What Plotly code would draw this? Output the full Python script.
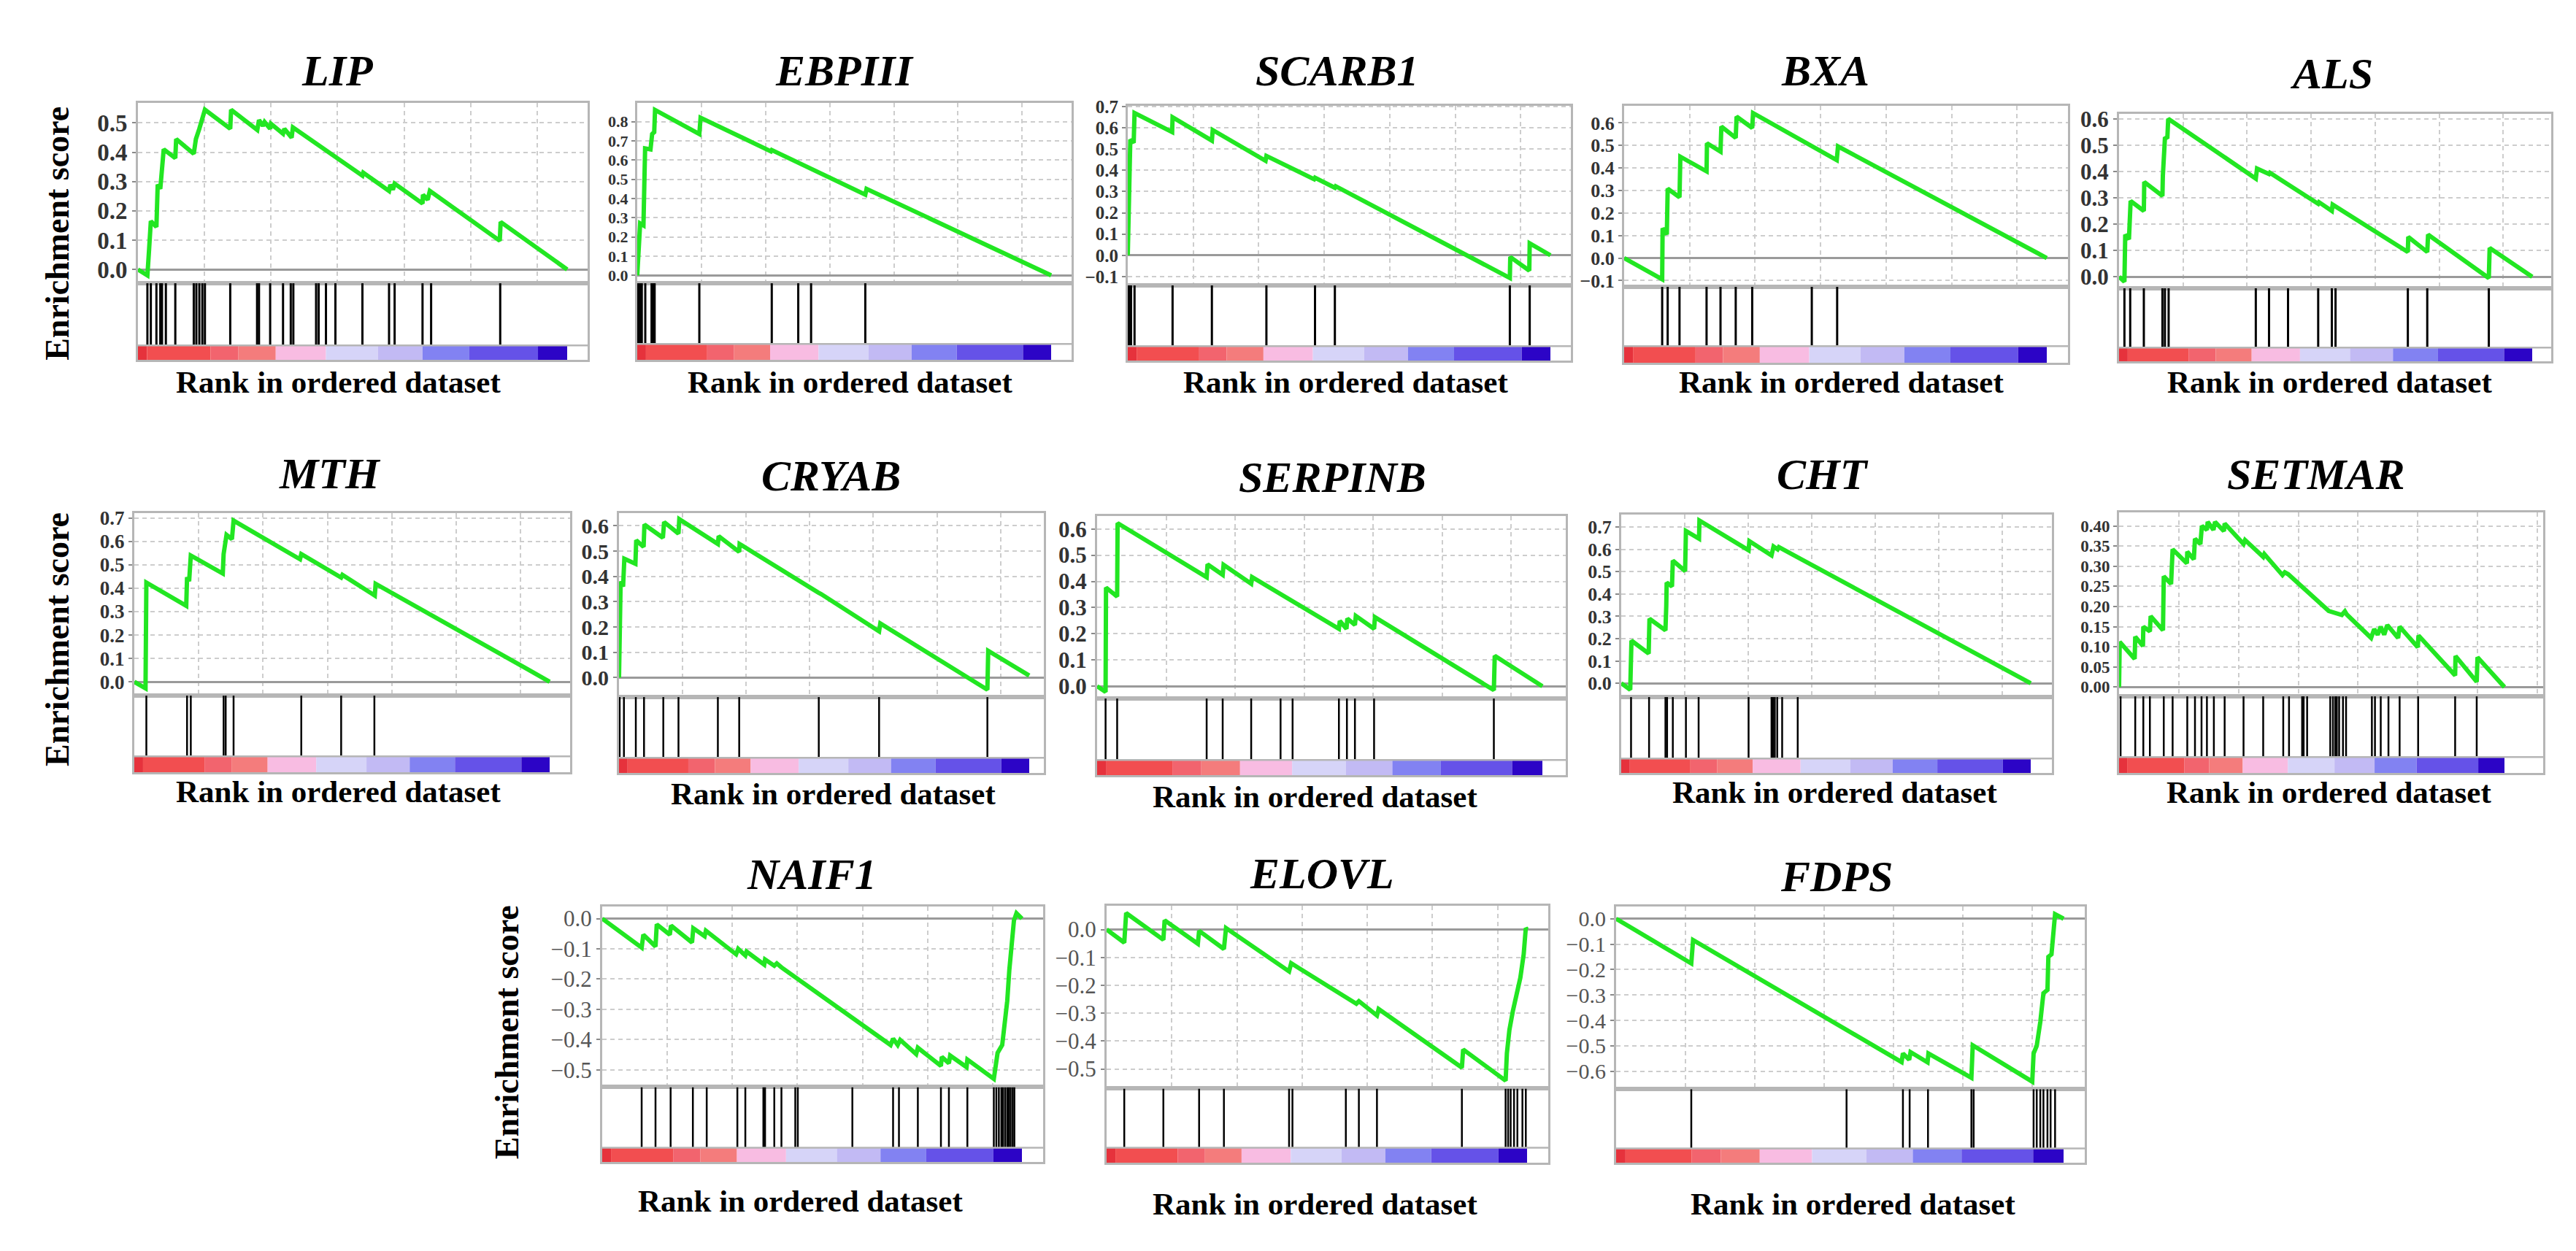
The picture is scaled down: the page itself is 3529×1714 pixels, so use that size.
import plotly.graph_objects as go

FIG_W, FIG_H = 3529, 1714
GREEN = "#22e622"
FRAME = "#b6b6b6"
GRID = "#cdcdcd"
SERIF = "Liberation Serif"

# ---------------- data ----------------
GENES = ["LIP", "EBPIII", "SCARB1", "BXA", "ALS",
         "MTH", "CRYAB", "SERPINB", "CHT", "SETMAR",
         "NAIF1", "ELOVL", "FDPS"]

# ranked-list colour strip (percent of ranked list)
CBAR_EDGES = [0, 2.1, 16.9, 23.4, 32.1, 43.8, 55.9, 66.3, 77.2, 93.2, 100]
CBAR_COLORS = ["#e6323c", "#f24e50", "#f2646e", "#f47c7c", "#f8bce2",
               "#d6d4f8", "#c2baf4", "#8282f2", "#6552e8", "#2c04c6"]

# running enrichment score vertices (x = % of ranked list)
LIP_ES_X = [0, 2.2, 2.6, 3.0, 4.3, 4.6, 5.2, 5.6, 6.0, 8.7, 8.9, 13.0, 13.5, 14.3, 15.1, 15.6, 21.5, 21.7, 27.8, 28.2,
            29.1, 29.5, 30.8, 31.0, 33.8, 34.1, 35.8, 36.1, 52.3, 52.5, 58.5, 58.8, 59.4, 59.8, 66.3, 66.4, 67.5, 68.0,
            84.3, 84.5, 100]
LIP_ES_Y = [0.0, -0.02, 0.07, 0.165, 0.145, 0.29, 0.275, 0.35, 0.41, 0.38, 0.445, 0.395, 0.445, 0.48, 0.515, 0.545,
            0.48, 0.545, 0.476, 0.51, 0.49, 0.503, 0.48, 0.497, 0.463, 0.48, 0.45, 0.485, 0.32, 0.33, 0.268, 0.289,
            0.272, 0.293, 0.225, 0.255, 0.238, 0.268, 0.098, 0.162, 0.0]
LIP_HITS = [2.2, 3.0, 4.3, 5.2, 5.6, 6.5, 8.7, 13.0, 13.6, 14.3, 15.0, 15.6, 21.5, 27.75, 28.2, 30.8, 33.8, 35.6,
            36.2, 41.5, 42.1, 43.8, 46.0, 52.3, 58.5, 59.8, 66.3, 68.3, 84.4]
LIP_TICKS = [0.0, 0.1, 0.2, 0.3, 0.4, 0.5]

EBPIII_ES_X = [0, 0.25, 0.7, 1.5, 1.9, 3.2, 3.6, 4.1, 4.3, 15.0, 15.3, 32.3, 32.5, 55.1, 55.4, 100]
EBPIII_ES_Y = [0, 0.13, 0.27, 0.26, 0.66, 0.655, 0.735, 0.745, 0.86, 0.735, 0.82, 0.645, 0.652, 0.42, 0.45, 0.0]
EBPIII_HITS = [0.25, 0.68, 1.1, 1.94, 3.46, 3.88, 4.2, 15.0, 32.5, 38.9, 42.0, 55.1]
EBPIII_TICKS = [0.0, 0.1, 0.2, 0.3, 0.4, 0.5, 0.6, 0.7, 0.8]

SCARB1_ES_X = [0, 0.6, 1.4, 1.6, 10.5, 10.6, 19.9, 20.1, 32.6, 32.8, 44.1, 44.3, 49.0, 49.2, 90.4, 90.5, 95.0,
               95.1, 100]
SCARB1_ES_Y = [0, 0.545, 0.53, 0.67, 0.58, 0.65, 0.54, 0.59, 0.445, 0.468, 0.358, 0.365, 0.318, 0.325, -0.107,
               -0.008, -0.072, 0.056, 0.0]
SCARB1_HITS = [0.23, 0.46, 0.77, 1.6, 10.6, 19.9, 32.8, 44.3, 49.0, 90.4, 95.1]
SCARB1_TICKS = [-0.1, 0.0, 0.1, 0.2, 0.3, 0.4, 0.5, 0.6, 0.7]

BXA_ES_X = [0, 9.0, 9.1, 10.1, 10.3, 13.1, 13.3, 19.5, 19.6, 22.8, 23.0, 26.4, 26.6, 30.3, 30.5, 50.3, 50.6, 100]
BXA_ES_Y = [0, -0.094, 0.132, 0.105, 0.308, 0.27, 0.45, 0.385, 0.51, 0.473, 0.584, 0.534, 0.628, 0.578, 0.644,
            0.435, 0.496, 0.0]
BXA_HITS = [9.0, 10.3, 13.1, 19.5, 22.8, 26.4, 30.3, 44.4, 50.4]
BXA_TICKS = [-0.1, 0.0, 0.1, 0.2, 0.3, 0.4, 0.5, 0.6]

ALS_ES_X = [0, 1.3, 1.5, 2.4, 2.8, 6.0, 6.1, 10.5, 10.6, 10.9, 11.1, 11.7, 11.9, 33.1, 33.4, 36.3, 36.5, 48.2,
            48.4, 51.5, 51.7, 69.9, 70.0, 74.6, 74.8, 89.5, 89.7, 100]
ALS_ES_Y = [0, -0.019, 0.16, 0.142, 0.288, 0.25, 0.36, 0.307, 0.383, 0.44, 0.525, 0.53, 0.6, 0.373, 0.411, 0.39,
            0.395, 0.277, 0.283, 0.25, 0.274, 0.094, 0.151, 0.094, 0.16, -0.005, 0.109, 0.0]
ALS_HITS = [1.3, 2.7, 6.0, 10.5, 11.1, 12.0, 33.1, 36.3, 40.9, 48.2, 51.5, 52.4, 69.9, 74.6, 89.5]
ALS_TICKS = [0.0, 0.1, 0.2, 0.3, 0.4, 0.5, 0.6]

MTH_ES_X = [0, 2.7, 2.9, 12.5, 12.7, 13.2, 13.6, 21.3, 21.5, 22.2, 23.5, 23.9, 39.9, 40.2, 49.8, 50.1, 57.9, 58.1,
            94.6, 100]
MTH_ES_Y = [0, -0.028, 0.424, 0.325, 0.447, 0.43, 0.54, 0.463, 0.546, 0.628, 0.61, 0.689, 0.524, 0.546, 0.446,
            0.457, 0.369, 0.419, 0.055, 0.0]
MTH_HITS = [2.9, 12.7, 13.6, 21.5, 22.0, 23.9, 40.2, 49.8, 57.8]
MTH_TICKS = [0.0, 0.1, 0.2, 0.3, 0.4, 0.5, 0.6, 0.7]

CRYAB_ES_X = [0, 0.2, 0.4, 1.0, 1.3, 4.0, 4.2, 6.0, 6.2, 10.7, 11.0, 14.5, 14.7, 24.1, 24.3, 29.3, 29.4, 48.5,
              49.3, 63.4, 63.7, 89.8, 90.0, 100]
CRYAB_ES_Y = [0, 0.23, 0.38, 0.36, 0.47, 0.45, 0.543, 0.517, 0.605, 0.553, 0.615, 0.569, 0.626, 0.528, 0.559,
              0.497, 0.528, 0.337, 0.33, 0.183, 0.214, -0.048, 0.106, 0.008]
CRYAB_HITS = [0.16, 1.2, 4.1, 6.1, 10.8, 14.5, 24.1, 29.3, 48.7, 63.4, 89.8]
CRYAB_TICKS = [0.0, 0.1, 0.2, 0.3, 0.4, 0.5, 0.6]

SERPINB_ES_X = [0, 1.9, 2.0, 4.5, 4.6, 24.6, 24.8, 28.2, 28.4, 34.6, 34.8, 54.3, 54.5, 56.0, 56.2, 57.9, 58.1,
                62.2, 62.4, 89.1, 89.3, 100]
SERPINB_ES_Y = [0, -0.022, 0.376, 0.342, 0.622, 0.416, 0.465, 0.425, 0.463, 0.391, 0.416, 0.219, 0.249, 0.219,
                0.258, 0.234, 0.268, 0.219, 0.263, -0.015, 0.116, 0.0]
SERPINB_HITS = [1.9, 4.5, 24.6, 28.2, 34.6, 41.2, 43.9, 54.3, 56.1, 57.9, 62.2, 89.1]
SERPINB_TICKS = [0.0, 0.1, 0.2, 0.3, 0.4, 0.5, 0.6]

CHT_ES_X = [0, 2.2, 2.5, 6.7, 6.9, 10.8, 11.0, 11.1, 12.4, 12.6, 15.6, 15.8, 19.0, 19.1, 31.1, 31.3, 36.7, 37.2,
            38.2, 38.5, 100]
CHT_ES_Y = [0, -0.029, 0.191, 0.133, 0.289, 0.237, 0.347, 0.451, 0.434, 0.55, 0.503, 0.683, 0.648, 0.729, 0.596,
            0.637, 0.573, 0.613, 0.6, 0.61, 0.0]
CHT_HITS = [2.4, 6.8, 10.8, 11.2, 12.6, 15.8, 18.9, 31.1, 36.7, 37.1, 37.5, 38.1, 39.3, 43.1]
CHT_TICKS = [0.0, 0.1, 0.2, 0.3, 0.4, 0.5, 0.6, 0.7]

SETMAR_ES_X = [0, 0.17, 4.05, 4.2, 6.2, 6.3, 8.0, 8.2, 11.4, 11.6, 13.5, 13.9, 17.6, 17.7, 19.4, 19.7, 21.1, 21.5,
               22.8, 23.0, 24.5, 24.9, 27.2, 27.4, 32.3, 32.7, 37.4, 37.7, 42.4, 43.0, 43.9, 54.4, 57.8, 58.6, 59.1,
               65.4, 66.2, 67.1, 67.9, 68.8, 69.6, 72.4, 72.8, 77.5, 77.7, 87.2, 87.3, 92.8, 93.0, 100]
SETMAR_ES_Y = [0, 0.112, 0.07, 0.125, 0.102, 0.15, 0.138, 0.176, 0.141, 0.275, 0.256, 0.342, 0.307, 0.336, 0.317,
               0.368, 0.355, 0.4, 0.39, 0.41, 0.39, 0.41, 0.387, 0.406, 0.355, 0.365, 0.323, 0.33, 0.278, 0.285,
               0.28, 0.189, 0.179, 0.188, 0.18, 0.122, 0.144, 0.13, 0.15, 0.13, 0.154, 0.122, 0.15, 0.099, 0.128,
               0.029, 0.077, 0.013, 0.074, 0.0]
SETMAR_HITS = [0.4, 4.2, 6.3, 8.0, 11.6, 13.9, 17.7, 19.7, 21.4, 22.8, 24.6, 27.4, 32.3, 37.4, 42.6, 44.1, 47.5,
               47.9, 48.8, 54.8, 55.5, 56.1, 56.5, 57.1, 58.1, 58.9, 65.6, 66.4, 67.9, 69.9, 72.8, 77.6, 87.2, 92.8]
SETMAR_TICKS = [0.0, 0.05, 0.10, 0.15, 0.20, 0.25, 0.30, 0.35, 0.40]

NAIF1_ES_X = [0, 9.4, 9.8, 12.7, 13.0, 16.1, 16.4, 21.4, 21.7, 24.4, 24.7, 31.9, 32.4, 34.1, 34.4, 38.6, 38.8,
              41.0, 41.6, 42.7, 68.7, 69.3, 70.4, 71.0, 74.8, 75.2, 80.7, 80.9, 82.6, 82.9, 86.8, 87.0, 93.3, 93.7,
              94.2, 95.3, 95.9, 96.5, 97.0, 97.6, 98.1, 98.7, 100]
NAIF1_ES_Y = [0, -0.096, -0.053, -0.092, -0.019, -0.053, -0.023, -0.079, -0.032, -0.058, -0.04, -0.118, -0.1,
              -0.122, -0.109, -0.152, -0.135, -0.156, -0.148, -0.161, -0.418, -0.397, -0.418, -0.401, -0.448,
              -0.427, -0.487, -0.457, -0.478, -0.453, -0.491, -0.466, -0.53, -0.487, -0.444, -0.418, -0.358,
              -0.272, -0.169, -0.083, -0.006, 0.018, 0.0]
NAIF1_HITS = [9.4, 12.7, 16.3, 21.6, 24.9, 32.2, 34.1, 38.4, 38.8, 41.0, 42.7, 46.0, 46.6, 59.6, 69.3, 70.7, 75.2,
              80.7, 82.6, 87.0, 93.3, 93.9, 94.5, 95.1, 95.5, 96.0, 96.5, 96.9, 97.3, 97.8, 98.2]
NAIF1_TICKS = [-0.5, -0.4, -0.3, -0.2, -0.1, 0.0]

ELOVL_ES_X = [0, 4.2, 4.65, 13.5, 13.8, 21.7, 22.0, 27.9, 28.4, 43.4, 43.9, 59.4, 60.0, 64.3, 64.7, 84.5, 84.8,
              94.9, 95.2, 95.8, 96.6, 98.4, 99.2, 99.7, 100]
ELOVL_ES_Y = [0, -0.047, 0.059, -0.037, 0.033, -0.051, -0.005, -0.07, 0.005, -0.15, -0.121, -0.266, -0.257,
              -0.308, -0.285, -0.495, -0.43, -0.542, -0.444, -0.36, -0.294, -0.173, -0.089, 0.005, 0.0]
ELOVL_HITS = [4.2, 13.5, 22.0, 27.9, 43.4, 44.2, 56.9, 60.0, 64.3, 84.5, 94.9, 95.5, 96.1, 96.9, 97.7, 98.9, 99.7]
ELOVL_TICKS = [-0.5, -0.4, -0.3, -0.2, -0.1, 0.0]

FDPS_ES_X = [0, 16.8, 17.2, 63.8, 64.1, 65.5, 65.8, 69.6, 69.8, 79.4, 79.7, 93.0, 93.3, 94.0, 94.8, 95.5, 96.4,
             96.6, 97.3, 98.1, 100]
FDPS_ES_Y = [0, -0.176, -0.084, -0.564, -0.53, -0.555, -0.525, -0.565, -0.53, -0.626, -0.498, -0.641, -0.53,
             -0.5, -0.406, -0.293, -0.28, -0.15, -0.14, 0.018, 0.0]
FDPS_HITS = [16.8, 51.5, 64.1, 65.6, 69.7, 79.4, 79.9, 93.3, 94.0, 94.8, 95.5, 96.4, 97.1, 98.1]
FDPS_TICKS = [-0.6, -0.5, -0.4, -0.3, -0.2, -0.1, 0.0]

SERIES = {
    "LIP": (LIP_ES_X, LIP_ES_Y, LIP_HITS, LIP_TICKS),
    "EBPIII": (EBPIII_ES_X, EBPIII_ES_Y, EBPIII_HITS, EBPIII_TICKS),
    "SCARB1": (SCARB1_ES_X, SCARB1_ES_Y, SCARB1_HITS, SCARB1_TICKS),
    "BXA": (BXA_ES_X, BXA_ES_Y, BXA_HITS, BXA_TICKS),
    "ALS": (ALS_ES_X, ALS_ES_Y, ALS_HITS, ALS_TICKS),
    "MTH": (MTH_ES_X, MTH_ES_Y, MTH_HITS, MTH_TICKS),
    "CRYAB": (CRYAB_ES_X, CRYAB_ES_Y, CRYAB_HITS, CRYAB_TICKS),
    "SERPINB": (SERPINB_ES_X, SERPINB_ES_Y, SERPINB_HITS, SERPINB_TICKS),
    "CHT": (CHT_ES_X, CHT_ES_Y, CHT_HITS, CHT_TICKS),
    "SETMAR": (SETMAR_ES_X, SETMAR_ES_Y, SETMAR_HITS, SETMAR_TICKS),
    "NAIF1": (NAIF1_ES_X, NAIF1_ES_Y, NAIF1_HITS, NAIF1_TICKS),
    "ELOVL": (ELOVL_ES_X, ELOVL_ES_Y, ELOVL_HITS, ELOVL_TICKS),
    "FDPS": (FDPS_ES_X, FDPS_ES_Y, FDPS_HITS, FDPS_TICKS),
}

# ---------------- layout (pixel boxes) ----------------
# L, R, top, es_bottom, cbar_top, cbar_bottom, cbar_right, ymin, ymax, title(x,y), rank(x,y), row
BOX = {
    "LIP":     (181, 797, 122, 372, 458, 478, 769, -0.047, 0.569, (454, 78), (456, 509), 1),
    "EBPIII":  (865, 1460, 122, 372, 456, 478, 1432, -0.041, 0.898, (1149, 78), (1156, 509), 1),
    "SCARB1":  (1537, 2144, 126, 375, 459, 479, 2116, -0.142, 0.705, (1824, 78), (1835, 509), 1),
    "BXA":     (2217, 2825, 126, 377, 459, 482, 2796, -0.128, 0.677, (2492, 78), (2514, 509), 1),
    "ALS":     (2895, 3487, 137, 379, 461, 480, 3461, -0.044, 0.620, (3186, 82), (3183, 509), 1),
    "MTH":     (176, 773, 690, 943, 1027, 1049, 745, -0.059, 0.722, (444, 636), (456, 1076), 2),
    "CRYAB":   (840, 1422, 690, 945, 1029, 1050, 1402, -0.077, 0.651, (1130, 639), (1133, 1079), 2),
    "SERPINB": (1495, 2137, 694, 947, 1032, 1053, 2105, -0.047, 0.650, (1817, 641), (1794, 1083), 2),
    "CHT":     (2213, 2803, 692, 945, 1030, 1050, 2774, -0.062, 0.757, (2489, 637), (2505, 1077), 2),
    "SETMAR":  (2895, 3476, 689, 944, 1028, 1050, 3423, -0.023, 0.434, (3164, 637), (3182, 1077), 2),
    "NAIF1":   (817, 1421, 1235, 1485, 1569, 1589, 1392, -0.557, 0.040, (1104, 1191), (1088, 1643), 3),
    "ELOVL":   (1508, 2113, 1234, 1487, 1569, 1590, 2084, -0.570, 0.085, (1803, 1189), (1794, 1647), 3),
    "FDPS":    (2206, 2848, 1235, 1488, 1570, 1590, 2819, -0.671, 0.048, (2508, 1194), (2530, 1647), 3),
}
YLABELS = [(71, 303), (71, 865), (686, 1409)]

fig = go.Figure()
lay = {}
shapes = []
annotations = []


def sfx(n):
    return "" if n == 1 else str(n)


for i, g in enumerate(GENES):
    es_x, es_y, hits, ticks = SERIES[g]
    L, R, T, EB, CT, CB, CR, ymin, ymax, (tx, ty), (rx, ry), row = BOX[g]
    n1, n2 = 2 * i + 1, 2 * i + 2
    s1, s2 = sfx(n1), sfx(n2)
    xmax = 100.0 * (R - L) / (CR - L)
    xdom = [L / FIG_W, R / FIG_W]
    fmt = ".2f" if g == "SETMAR" else ".1f"
    # tick label size limited by the pixel spacing of the ticks so labels never collide
    step_px = (EB - T) / (ymax - ymin) * abs(ticks[1] - ticks[0])
    tsize = int(min(33, 0.86 * step_px))
    tfont = dict(family=SERIF, size=tsize, color="#333333", weight="bold") if row < 3 else \
        dict(family=SERIF, size=min(tsize, 31), color="#555555")

    lay["xaxis" + s1] = dict(domain=xdom, range=[0, xmax], anchor="y" + s1, showticklabels=False, ticks="",
                             showgrid=True, gridcolor=GRID, griddash="6px,5px", gridwidth=1.5, tick0=0, dtick=15.5,
                             zeroline=False, showline=True, mirror=True, linecolor=FRAME, linewidth=3,
                             fixedrange=True)
    lay["yaxis" + s1] = dict(domain=[1 - EB / FIG_H, 1 - T / FIG_H], range=[ymin, ymax], anchor="x" + s1,
                             tickvals=ticks, tickformat=fmt, ticks="outside", ticklen=5, tickwidth=2,
                             tickcolor="#8a8a8a", tickfont=tfont, showgrid=True, gridcolor=GRID,
                             griddash="6px,5px", gridwidth=1.5, zeroline=True, zerolinecolor="#9a9a9a",
                             zerolinewidth=2.5, showline=True, mirror=True, linecolor=FRAME, linewidth=3,
                             fixedrange=True)
    lay["xaxis" + s2] = dict(domain=xdom, range=[0, xmax], anchor="y" + s2, showticklabels=False, ticks="",
                             showgrid=False, zeroline=False, showline=True, mirror=True, linecolor=FRAME,
                             linewidth=3, fixedrange=True)
    lay["yaxis" + s2] = dict(domain=[1 - CB / FIG_H, 1 - EB / FIG_H], range=[0, 1], anchor="x" + s2,
                             showticklabels=False, ticks="", showgrid=False, zeroline=False, showline=True,
                             mirror=True, linecolor=FRAME, linewidth=3, fixedrange=True)

    hb = (CB - CT) / (CB - EB)  # top of colour strip in hits-axis units

    # colour strip
    for k, col in enumerate(CBAR_COLORS):
        shapes.append(dict(type="rect", xref="x" + s2, yref="y" + s2, x0=CBAR_EDGES[k], x1=CBAR_EDGES[k + 1],
                           y0=0, y1=hb, fillcolor=col, line=dict(width=0), layer="below"))
    shapes.append(dict(type="line", xref="x" + s2 + " domain", yref="y" + s2, x0=0, x1=1, y0=hb, y1=hb,
                       line=dict(color=FRAME, width=2.5)))

    # hit lines
    hx, hy = [], []
    for h in hits:
        hx += [h, h, None]
        hy += [hb, 1, None]
    fig.add_trace(go.Scatter(x=hx, y=hy, mode="lines", line=dict(color="black", width=3 if row == 1 else 2.5),
                             xaxis="x" + s2, yaxis="y" + s2, showlegend=False, hoverinfo="skip"))
    # running ES
    fig.add_trace(go.Scatter(x=es_x, y=es_y, mode="lines", line=dict(color=GREEN, width=6),
                             xaxis="x" + s1, yaxis="y" + s1, showlegend=False, hoverinfo="skip"))

    annotations.append(dict(text="<b><i>%s</i></b>" % g, x=tx / FIG_W, y=1 - ty / FIG_H, xref="paper",
                            yref="paper", showarrow=False, xanchor="center", yanchor="middle",
                            font=dict(family=SERIF, size=60, color="black")))
    annotations.append(dict(text="<b>Rank in ordered dataset</b>", x=rx / FIG_W, y=1 - ry / FIG_H, xref="paper",
                            yref="paper", showarrow=False, xanchor="center", yanchor="middle",
                            font=dict(family=SERIF, size=43, color="black")))

for (lx, ly) in YLABELS:
    annotations.append(dict(text="<b>Enrichment score</b>", x=lx / FIG_W, y=1 - ly / FIG_H, xref="paper",
                            yref="paper", showarrow=False, xanchor="center", yanchor="middle", textangle=-90,
                            font=dict(family=SERIF, size=46, color="black")))

fig.update_layout(width=FIG_W, height=FIG_H, margin=dict(l=0, r=0, t=0, b=0), paper_bgcolor="white",
                  plot_bgcolor="white", showlegend=False, shapes=shapes, annotations=annotations, **lay)

fig.write_html("out.html")
